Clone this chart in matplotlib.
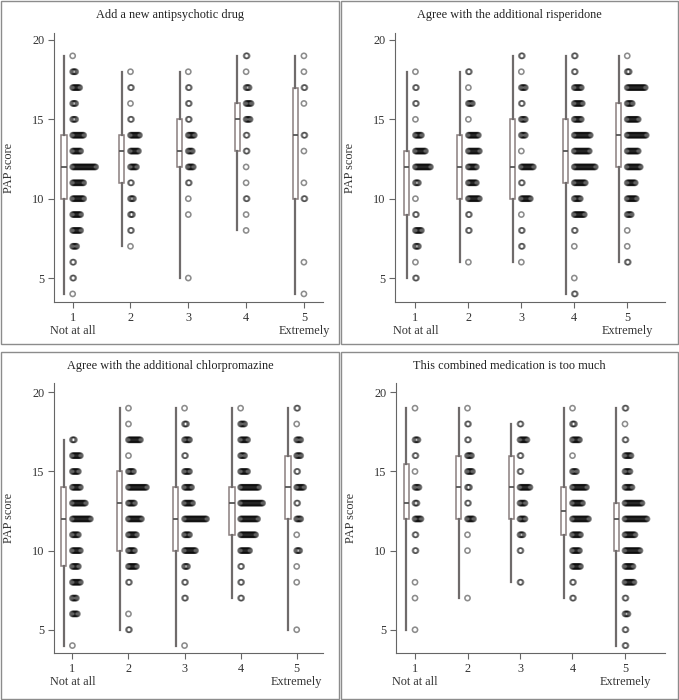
import matplotlib.pyplot as plt
from matplotlib.patches import Rectangle
from matplotlib.transforms import blended_transform_factory

plt.rcParams["font.family"] = ["Liberation Serif", "DejaVu Serif"]

W, H = 679, 700

SCORES = list(range(4, 20))
CATEGORIES = [1, 2, 3, 4, 5]
CAT_LABELS = ["1", "2", "3", "4", "5"]
LOW_LABEL = "Not at all"
HIGH_LABEL = "Extremely"
Y_TICKS = [5, 10, 15, 20]
Y_LABEL = "PAP score"

TITLES = [
    "Add a new antipsychotic drug",
    "Agree with the additional risperidone",
    "Agree with the additional chlorpromazine",
    "This combined medication is too much",
]

# number of respondents at each PAP score 4..19, one row per response category
P1_COUNTS = [
    [1, 2, 2, 5, 9, 9, 12, 12, 24, 9, 12, 4, 4, 8, 4, 1],
    [0, 0, 0, 1, 2, 3, 4, 2, 7, 9, 10, 2, 1, 2, 1, 0],
    [0, 1, 0, 0, 0, 1, 1, 2, 6, 5, 7, 2, 2, 2, 1, 0],
    [0, 0, 0, 0, 1, 1, 2, 1, 1, 2, 2, 5, 6, 4, 1, 2],
    [1, 0, 1, 0, 0, 0, 2, 1, 0, 1, 2, 0, 1, 2, 1, 1],
]
P2_COUNTS = [
    [0, 2, 1, 4, 7, 2, 1, 4, 16, 11, 7, 1, 2, 2, 1, 0],
    [0, 0, 1, 0, 2, 2, 12, 9, 9, 12, 11, 1, 5, 1, 2, 0],
    [0, 0, 1, 2, 2, 1, 10, 2, 13, 1, 5, 5, 2, 5, 1, 2],
    [2, 1, 0, 1, 2, 11, 7, 12, 22, 16, 17, 8, 9, 8, 2, 2],
    [0, 0, 2, 1, 1, 5, 10, 9, 14, 12, 20, 12, 6, 19, 3, 1],
]
P3_COUNTS = [
    [1, 0, 6, 5, 9, 7, 9, 7, 19, 14, 9, 7, 9, 3, 0, 0],
    [0, 2, 1, 0, 2, 9, 7, 9, 14, 7, 19, 6, 1, 13, 1, 1],
    [1, 0, 0, 2, 2, 4, 12, 6, 23, 9, 8, 6, 2, 6, 3, 1],
    [0, 0, 0, 2, 2, 2, 10, 16, 18, 23, 19, 8, 5, 8, 5, 1],
    [0, 1, 0, 0, 1, 1, 4, 1, 5, 2, 8, 2, 5, 5, 1, 2],
]
P4_COUNTS = [
    [0, 1, 0, 1, 1, 0, 2, 2, 7, 3, 5, 1, 2, 4, 0, 1],
    [0, 0, 0, 1, 0, 0, 1, 1, 7, 2, 3, 6, 5, 2, 2, 1],
    [0, 0, 0, 0, 2, 0, 2, 4, 6, 6, 11, 2, 2, 8, 2, 0],
    [0, 0, 0, 2, 2, 9, 8, 9, 17, 11, 15, 5, 1, 8, 3, 1],
    [2, 2, 4, 2, 10, 9, 16, 11, 23, 18, 8, 6, 7, 2, 1, 2],
]

# box summaries: (lower whisker, q1, median, q3, upper whisker)
P1_BOX = [(4, 10, 12, 14, 19), (7, 11, 13, 14, 18), (5, 12, 13, 15, 18),
          (8, 13, 15, 16, 19), (4, 10, 14, 17, 19)]
P2_BOX = [(5, 9, 12, 13, 18), (6, 10, 12, 14, 18), (6, 10, 12, 15, 19),
          (4, 11, 13, 15, 19), (6, 12, 14, 16, 19)]
P3_BOX = [(4, 9, 12, 14, 17), (5, 10, 13, 15, 19), (4, 10, 12, 14, 19),
          (7, 11, 13, 14, 19), (5, 12, 14, 16, 19)]
P4_BOX = [(5, 12, 13, 15.5, 19), (7, 12, 14, 16, 19), (8, 12, 14, 16, 18),
          (7, 11, 12.5, 14, 19), (4, 10, 12, 13, 19)]

PANELS = [
    # frame (l, t, r, b) px, axes (l, t, r, b) px, xlim, ylim
    dict(frame=(1, 1, 339, 344), axes=(54, 33, 323, 302),
         xlim=(0.677, 5.33), ylim=(3.49, 20.44), counts=P1_COUNTS, box=P1_BOX),
    dict(frame=(341, 1, 678, 344), axes=(395, 33, 665, 302),
         xlim=(0.614, 5.713), ylim=(3.49, 20.44), counts=P2_COUNTS, box=P2_BOX),
    dict(frame=(1, 352, 339, 699), axes=(54, 383, 323, 653),
         xlim=(0.672, 5.469), ylim=(3.53, 20.59), counts=P3_COUNTS, box=P3_BOX),
    dict(frame=(341, 352, 678, 699), axes=(396, 383, 665, 653),
         xlim=(0.638, 5.762), ylim=(3.53, 20.59), counts=P4_COUNTS, box=P4_BOX),
]

fig = plt.figure(figsize=(W / 100, H / 100), dpi=100)
fig.patch.set_facecolor("white")

for title, p in zip(TITLES, PANELS):
    fl, ft, fr, fb = p["frame"]
    fig.add_artist(Rectangle((fl / W, 1 - fb / H), (fr - fl) / W, (fb - ft) / H,
                             transform=fig.transFigure, fill=False,
                             edgecolor="#8c8c8c", linewidth=1.0))
    fig.text((fl + fr) / 2 / W, 1 - (ft + 14) / H, title, ha="center", va="center",
             fontsize=8.8, color="#222")

    al, at, ar, ab = p["axes"]
    ax = fig.add_axes([al / W, 1 - ab / H, (ar - al) / W, (ab - at) / H])
    ax.set_xlim(*p["xlim"])
    ax.set_ylim(*p["ylim"])
    px_per_unit = (ar - al) / (p["xlim"][1] - p["xlim"][0])
    step = 1.0 / px_per_unit

    for cat, counts in zip(CATEGORIES, p["counts"]):
        xs, ys = [], []
        for score, n in zip(SCORES, counts):
            for k in range(n):
                xs.append(cat + k * step)
                ys.append(score)
        ax.scatter(xs, ys, s=14, facecolors="none", edgecolors=(0, 0, 0, 0.45),
                   linewidths=1.15, zorder=3)

    stats = [dict(whislo=b[0], q1=b[1], med=b[2], q3=b[3], whishi=b[4]) for b in p["box"]]
    ax.bxp(stats, positions=[c - 8.7 / px_per_unit for c in CATEGORIES],
           widths=5.3 / px_per_unit, showfliers=False, showcaps=False, patch_artist=True,
           boxprops=dict(facecolor="white", edgecolor="#8a7f7f", linewidth=1.1),
           whiskerprops=dict(color="#6f6b6b", linewidth=1.6),
           medianprops=dict(color="#555", linewidth=1.3), manage_ticks=False, zorder=2)

    for side in ["top", "right"]:
        ax.spines[side].set_visible(False)
    for side in ["left", "bottom"]:
        ax.spines[side].set_color("#666")
        ax.spines[side].set_linewidth(0.8)
    ax.set_xticks(CATEGORIES)
    ax.set_xticklabels(CAT_LABELS)
    ax.set_yticks(Y_TICKS)
    ax.tick_params(direction="out", length=4, width=0.8, color="#666",
                   labelsize=8.8, labelcolor="#333", pad=3)
    ax.set_ylabel(Y_LABEL, fontsize=8.8, color="#333")
    ax.yaxis.set_label_coords(-0.145, 0.5)

    trans = blended_transform_factory(ax.transData, ax.transAxes)
    ax.text(CATEGORIES[0], -0.108, LOW_LABEL, transform=trans, ha="center", va="center",
            fontsize=8.8, color="#333")
    ax.text(CATEGORIES[-1], -0.108, HIGH_LABEL, transform=trans, ha="center", va="center",
            fontsize=8.8, color="#333")

fig.savefig("out.png", dpi=100)
